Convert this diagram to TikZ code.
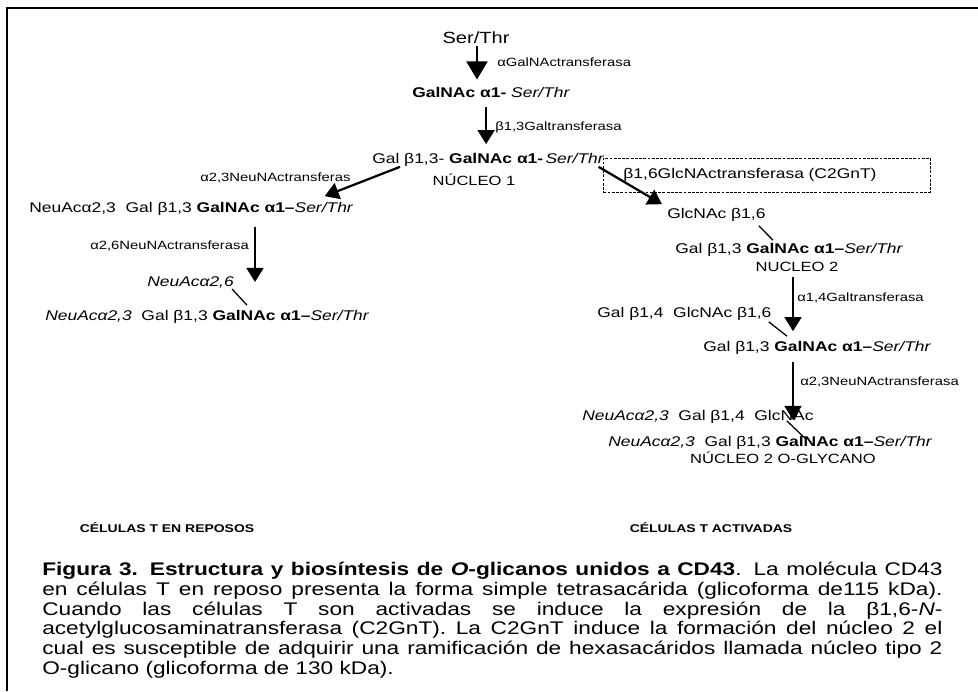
\documentclass[tikz,border=0pt]{standalone}
\usepackage{fontspec}
\setmainfont[FakeStretch=1.24]{Liberation Sans}
\usetikzlibrary{arrows.meta,calc}

\newcommand{\st}{\textit{Ser/Thr}}
\newcommand{\capline}[1]{\makebox[22.5cm][s]{#1}}

\begin{document}
\begin{tikzpicture}[x=0.025cm,y=-0.025cm,
  sug/.style={font=\fontsize{10}{12}\selectfont, inner sep=0pt, anchor=west},
  enz/.style={font=\fontsize{8.5}{10}\selectfont, inner sep=0pt, anchor=west},
  core/.style={font=\fontsize{9.5}{11}\selectfont, inner sep=0pt},
  cell/.style={font=\bfseries\fontsize{8}{10}\selectfont, inner sep=0pt},
  capt/.style={font=\fontsize{13}{14}\selectfont, inner sep=0pt, align=left},
  rxn/.style={draw, line width=1.6pt, -{Triangle[width=12pt,length=10pt]}},
  bond/.style={draw, line width=0.9pt},
]
\useasboundingbox (0,0) rectangle (978,691);
\path[draw, line width=1.3pt] (7,691) -- (7,8) -- (978,8);

% nucleo 1
\node[sug, anchor=center, font=\fontsize{11.5}{13}\selectfont] (ser) at (476,38) {Ser/Thr};
\node[enz] (e1) at (497,62) {αGalNActransferasa};
\node[sug] (gn) at (412,92) {\textbf{GalNAc α1-} \st};
\node[enz] (e2) at (495,127) {β1,3Galtransferasa};
\node[sug] (c1) at (372,160) {Gal β1,3- \textbf{GalNAc α1-}\,\st};
\node[core] (n1) at (474,180) {NÚCLEO 1};

% celulas en reposo
\node[enz] (e3) at (200,178) {α2,3NeuNActransferas};
\node[sug] (s3) at (29,209) {NeuAcα2,3~~Gal β1,3 \textbf{GalNAc α1--}\st};
\node[enz] (e4) at (90,246) {α2,6NeuNActransferasa};
\node[sug] (s6) at (147,282) {\textit{NeuAcα2,6}};
\node[sug] (s36) at (45,317) {\textit{NeuAcα2,3}~~Gal β1,3 \textbf{GalNAc α1--}\st};

% celulas activadas
\node[enz, draw, dash pattern=on 2pt off 1pt, line width=0.6pt, font=\fontsize{10}{12}\selectfont,
  inner xsep=0.5cm, text width=7.175cm, minimum height=0.85cm, align=left] (e5) at (603,175) {β1,6GlcNActransferasa (C2GnT)};
\node[sug] (gb) at (667,215) {GlcNAc β1,6};
\node[sug] (c2) at (675,250) {Gal β1,3 \textbf{GalNAc α1--}\st};
\node[core] (n2) at (797,267) {NUCLEO 2};
\node[enz] (e6) at (797,298) {α1,4Galtransferasa};
\node[sug] (lb) at (597,314) {Gal β1,4~~GlcNAc β1,6};
\node[sug] (c2b) at (703,348) {Gal β1,3 \textbf{GalNAc α1--}\st};
\node[enz] (e7) at (800,382) {α2,3NeuNActransferasa};
\node[sug] (sb) at (582,417) {\textit{NeuAcα2,3}~~Gal β1,4~~GlcNAc};
\node[sug] (c2c) at (608,443) {\textit{NeuAcα2,3}~~Gal β1,3 \textbf{GalNAc α1--}\st};
\node[core] (n3) at (783,458) {NÚCLEO 2 O-GLYCANO};

\node[cell] (rest) at (167,528) {CÉLULAS T EN REPOSOS};
\node[cell] (act) at (711,528) {CÉLULAS T ACTIVADAS};

\node[capt, anchor=north west] (cap) at (42,562) {%
\capline{\textbf{Figura 3. Estructura y biosíntesis de \textit{O}-glicanos unidos a CD43}. La molécula CD43}\\
\capline{en células T en reposo presenta la forma simple tetrasacárida (glicoforma de115 kDa).}\\
\capline{Cuando las células T son activadas se induce la expresión de la β1,6-\textit{N}-}\\
\capline{acetylglucosaminatransferasa (C2GnT). La C2GnT induce la formación del núcleo 2 el}\\
\capline{cual es susceptible de adquirir una ramificación de hexasacáridos llamada núcleo tipo 2}\\
O-glicano (glicoforma de 130 kDa).};

% flechas
\path[rxn, -{Triangle[width=15pt,length=13pt]}] ($(ser.south)+(1,2)$) -- ($(ser.south |- gn.north)+(1,-7)$);
\path[rxn] ($(gn.south)+(-5,10)$) -- ($(gn.south |- c1.north)+(-5,-9)$);
\path[rxn] ($(c1.south west)+(28,0)$) -- ($(s3.north east)+(-29,-6)$);
\coordinate (a4t) at ($(s3.south west)+(226,11)$);
\path[rxn] (a4t) -- (a4t |- s6.center);
\path[bond] ($(s6.south east)+(-2,1)$) -- ($(s36.north west)+(202,-5)$);
\path[rxn] ($(c1.south east)+(-6,0)$) -- ($(gb.north west)+(-5,-4)$);
\path[bond] ($(gb.south east)+(-7,4)$) -- ($(c2.north west)+(98,-3)$);
\path[rxn] ($(n2.south)+(-4,5)$) -- ($(n2.south |- c2b.north)+(-4,-10)$);
\path[bond] ($(lb.south east)+(-3,1)$) -- ($(c2b.north west)+(84,-5)$);
\coordinate (a7t) at ($(c2b.south west)+(90,7)$);
\path[rxn] (a7t) -- ($(a7t |- sb.center)+(0,3)$);
\path[bond] ($(sb.south east)+(-27,-3)$) -- ($(c2c.north west)+(197,2)$);
\end{tikzpicture}
\end{document}
